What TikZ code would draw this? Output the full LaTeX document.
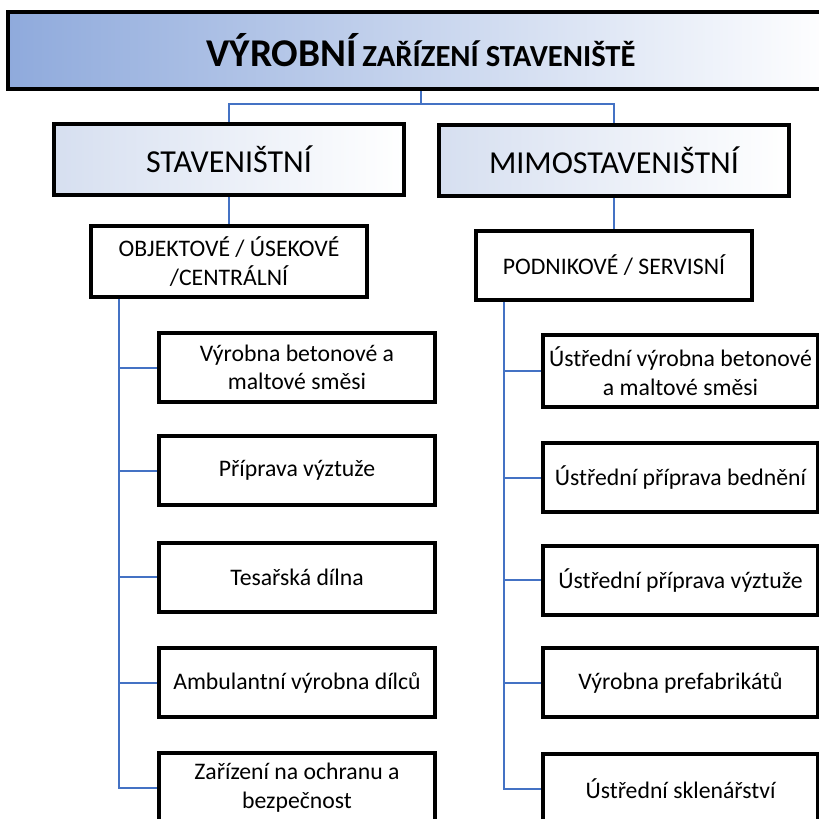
\documentclass[tikz,border=0pt]{standalone}
\usepackage{fontspec}
\setmainfont{Carlito}
\definecolor{linkblue}{HTML}{4472C4}
\definecolor{deepblue}{HTML}{8FAADC}
\definecolor{paleblue}{HTML}{D6DFF0}
\begin{document}
\begin{tikzpicture}[x=0.75pt,y=-0.75pt,
  box/.style={draw=black, line width=3pt, fill=white, inner sep=0pt, align=center,
    font=\fontsize{17.8}{21.5}\selectfont},
  leaf/.style={box, minimum width=207pt, minimum height=51.75pt},
  headbox/.style={box, left color=paleblue, right color=white,
    minimum width=262.5pt, minimum height=53.25pt,
    font=\fontsize{24}{28}\selectfont},
  conn/.style={draw=linkblue, line width=1.5pt}]
\useasboundingbox (0,0) rectangle (819,819);
\clip (0,0) rectangle (819,819);

% top level
\node[box, left color=deepblue, right color=white, minimum width=619.5pt,
  minimum height=57.75pt] (top) at (421,50.5)
  {\bfseries{\fontsize{29.5}{33}\selectfont VÝROBNÍ} {\fontsize{23}{27}\selectfont ZAŘÍZENÍ STAVENIŠTĚ}};

% second level
\node[headbox] (stav) at (229,159.5) {STAVENIŠTNÍ};
\node[headbox] (mimo) at (614,160) {MIMOSTAVENIŠTNÍ};

% third level
\node[box, minimum width=207pt, minimum height=53.25pt] (obj) at (229,261.5)
  {OBJEKTOVÉ / ÚSEKOVÉ\\/CENTRÁLNÍ};
\node[box, minimum width=207pt, minimum height=51.75pt] (pod) at (614,265.5)
  {PODNIKOVÉ / SERVISNÍ};

% on-site workshops
\node[leaf] (l1) at (297,367.5) {Výrobna betonové a\\maltové směsi};
\node[leaf] (l2) at (297,470.5) {Příprava výztuže};
\node[leaf] (l3) at (297,577) {Tesařská dílna};
\node[leaf] (l4) at (297,682.5) {Ambulantní výrobna dílců};
\node[leaf] (l5) at (297,787.5) {Zařízení na ochranu a\\bezpečnost};

% off-site plants
\node[leaf, minimum width=206.25pt, minimum height=54pt] (r1) at (680.5,371) {Ústřední výrobna betonové\\a maltové směsi};
\node[leaf, minimum width=206.25pt] (r2) at (680.5,477.5) {Ústřední příprava bednění};
\node[leaf, minimum width=206.25pt] (r3) at (680.5,580) {Ústřední příprava výztuže};
\node[leaf, minimum width=206.25pt] (r4) at (680.5,682.5) {Výrobna prefabrikátů};
\node[leaf, minimum width=206.25pt] (r5) at (680.5,788.5) {Ústřední sklenářství};

% connectors
\coordinate (fork) at (421,104);
\draw[conn] (top.south) -- (fork);
\draw[conn] (stav.north) |- (fork) -| (mimo.north);
\draw[conn] (stav.south) -- (obj.north);
\draw[conn] (mimo.south) -- (pod.north);

\coordinate (lbus) at (119,297);
\draw[conn] (obj.south -| lbus) |- (l5.west);
\foreach \i in {1,...,4} \draw[conn] (l\i.west) -- (l\i.west -| lbus);

\coordinate (rbus) at (504,300);
\draw[conn] (pod.south -| rbus) |- (r5.west);
\foreach \i in {1,...,4} \draw[conn] (r\i.west) -- (r\i.west -| rbus);
\end{tikzpicture}
\end{document}
